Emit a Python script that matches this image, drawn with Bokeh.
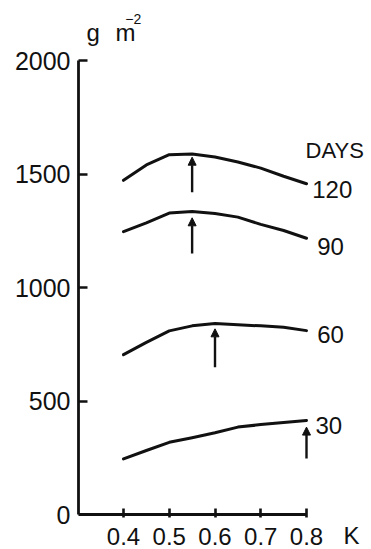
from bokeh.plotting import figure
from bokeh.models import Label, Arrow, NormalHead, FixedTicker, Range1d
from bokeh.embed import file_html
from bokeh.resources import INLINE

# ---- data ----
k_values = [0.4, 0.45, 0.5, 0.55, 0.6, 0.65, 0.7, 0.75, 0.8]
days_120 = [1472, 1540, 1585, 1588, 1575, 1553, 1526, 1490, 1457]
days_90 = [1246, 1285, 1328, 1335, 1326, 1310, 1278, 1251, 1217]
days_60 = [704, 758, 809, 831, 841, 836, 831, 825, 810]
days_30 = [245, 282, 318, 338, 360, 385, 396, 405, 414]
series_labels = ["120", "90", "60", "30"]
# optimum K arrows: (K, y_from, y_to)
arrow_k = [0.55, 0.55, 0.6, 0.8]
arrow_from = [1420, 1150, 649, 247]
arrow_to = [1574, 1307, 818, 385]
x_ticks = [0.4, 0.5, 0.6, 0.7, 0.8]
x_tick_labels = ["0.4", "0.5", "0.6", "0.7", "0.8"]
y_ticks = [0, 500, 1000, 1500, 2000]
y_tick_labels = ["0", "500", "1000", "1500", "2000"]

FONT = "Liberation Sans"
INK = "#111111"

PX_X = 457.5   # pixels per K unit
PX_Y = 0.227   # pixels per g m-2
x_start = 0.4 - 45 / PX_X
x_end = x_start + 293 / PX_X
y_start = -35 / PX_Y
y_end = y_start + 549 / PX_Y

p = figure(width=371, height=549, output_backend="svg", toolbar_location=None,
           x_range=Range1d(x_start, x_end), y_range=Range1d(y_start, y_end),
           min_border_left=78, min_border_right=0, min_border_top=0,
           min_border_bottom=0)
p.outline_line_color = None
p.grid.visible = False
p.background_fill_color = "white"
p.border_fill_color = "white"

# axes
p.xaxis.fixed_location = 0
p.xaxis.ticker = FixedTicker(ticks=x_ticks)
p.xaxis.major_label_overrides = dict(zip(x_ticks, x_tick_labels))
p.xaxis.bounds = (x_start, 0.8)
p.xaxis.minor_tick_line_color = None
p.xaxis.major_tick_in = 6
p.xaxis.major_tick_out = 3
p.xaxis.major_label_standoff = 10

p.yaxis.ticker = FixedTicker(ticks=y_ticks)
p.yaxis.major_label_overrides = dict(zip(y_ticks, y_tick_labels))
p.yaxis.bounds = (0, 2000)
p.yaxis.minor_tick_line_color = None
p.yaxis.major_tick_in = 9
p.yaxis.major_tick_out = 0
p.yaxis.major_label_standoff = 8

for ax in (p.xaxis, p.yaxis):
    ax.axis_line_width = 2.8
    ax.axis_line_color = INK
    ax.major_tick_line_width = 2.6
    ax.major_tick_line_color = INK
    ax.major_label_text_font = FONT
    ax.major_label_text_color = INK
p.yaxis.major_label_text_font_size = "25px"
p.xaxis.major_label_text_font_size = "24px"

# curves
for ys in (days_120, days_90, days_60, days_30):
    p.line(k_values, ys, line_width=3, line_color=INK, line_cap="round", line_join="round")

# arrows
for kx, y0, y1 in zip(arrow_k, arrow_from, arrow_to):
    p.add_layout(Arrow(end=NormalHead(size=8, fill_color=INK, line_color=INK, line_width=1),
                       x_start=kx, y_start=y0, x_end=kx, y_end=y1,
                       line_width=2.4, line_color=INK))

# series labels
label_pos = [(0.8125, 1433), (0.8234, 1180), (0.8234, 794), (0.8197, 392)]
for txt, (lx, ly) in zip(series_labels, label_pos):
    p.add_layout(Label(x=lx, y=ly, text=txt, text_font=FONT, text_font_size="24px",
                       text_color=INK, text_baseline="alphabetic"))

p.add_layout(Label(x=0.798, y=1605, text="DAYS", text_font=FONT, text_font_size="22px",
                   text_color=INK, text_baseline="alphabetic"))
p.add_layout(Label(x=0.8809, y=-93, text="K", text_font=FONT, text_font_size="24px",
                   text_color=INK, text_baseline="alphabetic"))
# unit label  g m^-2
p.add_layout(Label(x=0.319, y=2123, text="g", text_font=FONT, text_font_size="24px",
                   text_color=INK, text_baseline="alphabetic"))
p.add_layout(Label(x=0.3825, y=2123, text="m", text_font=FONT, text_font_size="24px",
                   text_color=INK, text_baseline="alphabetic"))
p.add_layout(Label(x=0.404, y=2183, text="\u22122", text_font=FONT, text_font_size="14px",
                   text_color=INK, text_baseline="alphabetic"))

open("out.html", "w").write(file_html(p, INLINE))
